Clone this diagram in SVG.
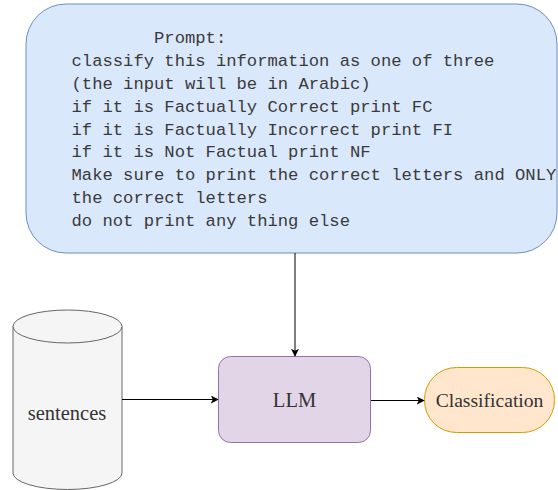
<svg xmlns="http://www.w3.org/2000/svg" width="558" height="490" viewBox="0 0 558 490">
<defs>
<style>
.mono{font-family:"Liberation Mono","Courier New",monospace;font-size:17.2px;fill:#3a3a3a;}
.serif{font-family:"Liberation Serif","Times New Roman",serif;fill:#333333;text-anchor:middle;}
.edge{fill:none;stroke:#000000;stroke-width:1;}
</style>
<marker id="arrow" viewBox="0 0 10 10" refX="9" refY="5" markerWidth="8" markerHeight="8" markerUnits="userSpaceOnUse" orient="auto">
<path d="M0,0 L10,5 L0,10 L2.5,5 Z" fill="#000000"/>
</marker>
</defs>
<rect width="558" height="490" fill="#ffffff"/>
<g id="prompt">
<rect x="26" y="4" width="531" height="249" rx="40" ry="40" fill="#dae8fc" stroke="#6c8ebf" stroke-width="1"/>
<text class="mono" x="154" y="43">Prompt:</text>
<text class="mono" x="71.5" y="66">classify this information as one of three</text>
<text class="mono" x="71.5" y="89">(the input will be in Arabic)</text>
<text class="mono" x="71.5" y="112">if it is Factually Correct print FC</text>
<text class="mono" x="71.5" y="135">if it is Factually Incorrect print FI</text>
<text class="mono" x="71.5" y="157">if it is Not Factual print NF</text>
<text class="mono" x="71.5" y="180">Make sure to print the correct letters and ONLY</text>
<text class="mono" x="71.5" y="203">the correct letters</text>
<text class="mono" x="71.5" y="226">do not print any thing else</text>
</g>
<g id="sentences">
<path d="M13,326.5 L13,473 A54.5,16.5 0 0 0 122,473 L122,326.5" fill="#f5f5f5" stroke="#666666" stroke-width="1"/>
<ellipse cx="67.5" cy="326.5" rx="54.5" ry="16.5" fill="#f5f5f5" stroke="#666666" stroke-width="1"/>
<text class="serif" x="67" y="420" font-size="20.5">sentences</text>
</g>
<g id="llm">
<rect x="218.5" y="356.5" width="152" height="86" rx="12" ry="12" fill="#e1d5e7" stroke="#9673a6" stroke-width="1"/>
<text class="serif" x="294.5" y="407" font-size="20.5">LLM</text>
</g>
<g id="classification">
<rect x="424.5" y="367.5" width="130" height="65" rx="32" ry="32" fill="#ffe6cc" stroke="#d79b00" stroke-width="1"/>
<text class="serif" x="489.5" y="407" font-size="19.6">Classification</text>
</g>
<g id="connectors">
<path class="edge" d="M295,253 L295,356" marker-end="url(#arrow)"/>
<path class="edge" d="M122,399.5 L218,399.5" marker-end="url(#arrow)"/>
<path class="edge" d="M371,400.5 L424,400.5" marker-end="url(#arrow)"/>
</g>
</svg>
